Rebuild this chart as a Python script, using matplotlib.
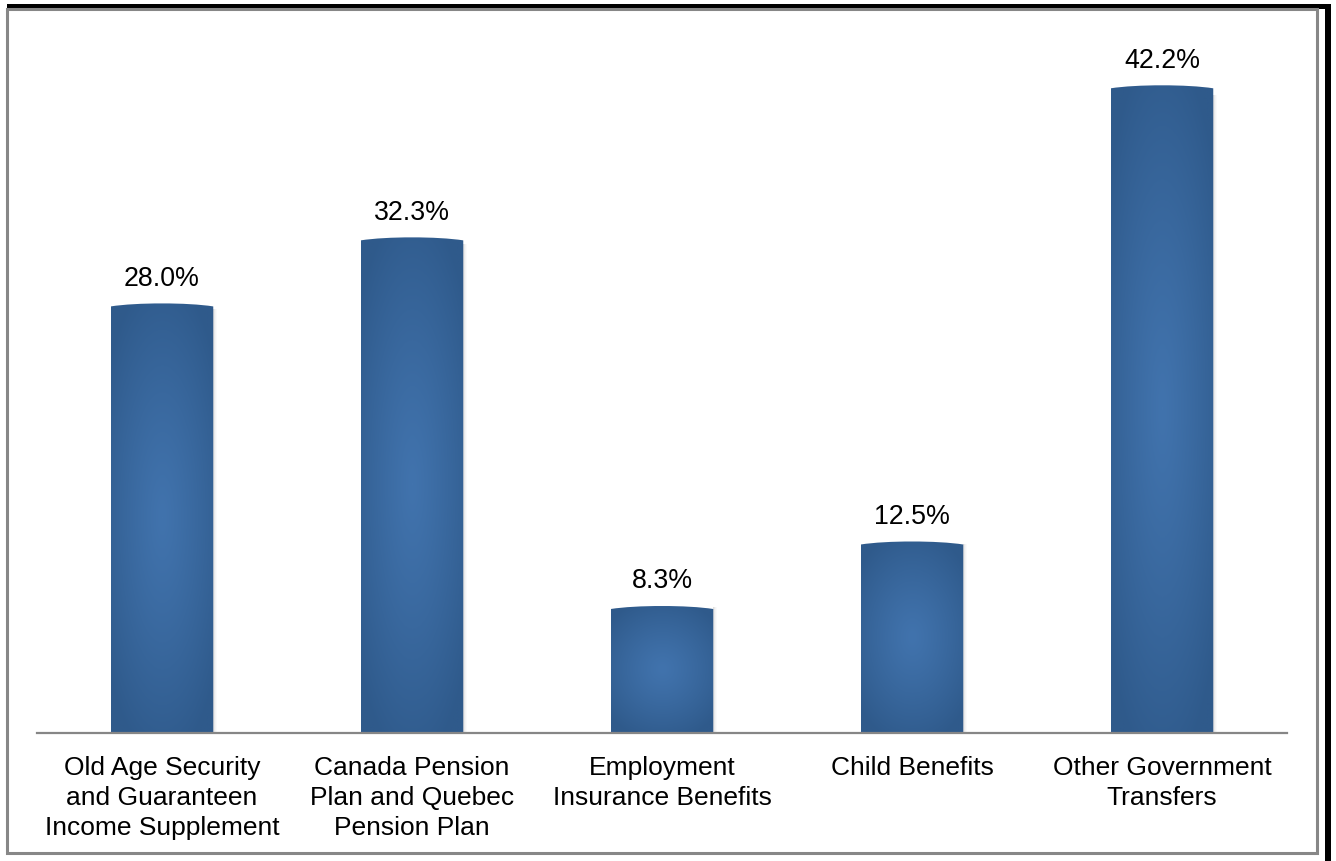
import numpy as np
import matplotlib
matplotlib.use("Agg")
import matplotlib.pyplot as plt
from matplotlib.patches import Rectangle, PathPatch
from matplotlib.path import Path
from matplotlib.colors import LinearSegmentedColormap

plt.rcParams['font.family'] = ['Liberation Sans', 'DejaVu Sans']

categories = [
    "Old Age Security\nand Guaranteen\nIncome Supplement",
    "Canada Pension\nPlan and Quebec\nPension Plan",
    "Employment\nInsurance Benefits",
    "Child Benefits",
    "Other Government\nTransfers",
]
shares = [28.0, 32.3, 8.3, 12.5, 42.2]
value_labels = ["28.0%", "32.3%", "8.3%", "12.5%", "42.2%"]

W, H = 1336, 861
fig = plt.figure(figsize=(W / 100, H / 100), dpi=100)
fig.patch.set_facecolor("white")

# outer frame: black offset shadow on top/right, gray box inside
fig.add_artist(Rectangle((7 / W, 1 - 9 / H), (1331 - 7) / W, 5 / H,
                         transform=fig.transFigure, facecolor="black",
                         edgecolor="none", zorder=0))
fig.add_artist(Rectangle((1325 / W, 0), 6 / W, 1 - 4 / H,
                         transform=fig.transFigure, facecolor="black",
                         edgecolor="none", zorder=0))
fig.add_artist(Rectangle((7 / W, 1 - 853 / H), (1317 - 7) / W, (853 - 9) / H,
                         transform=fig.transFigure, facecolor="white",
                         edgecolor="#878787", linewidth=2.2, zorder=1))

ax = fig.add_axes([37 / W, 1 - 733 / H, (1287 - 37) / W, (733 - 20) / H])
ax.set_zorder(2)
ax.patch.set_visible(False)

x = np.arange(len(shares))
bars = ax.bar(x, shares, width=0.41, color="none", edgecolor="none")
ax.set_xlim(-0.5, len(shares) - 0.5)
ax.set_ylim(0, (733 - 20) / 15.36)

cmap = LinearSegmentedColormap.from_list("barblue", ["#4173ad", "#2f5a8b"])
px_per_unit_y = 15.36
px_per_unit_x = 250.0

for b in bars:
    x0, w, h = b.get_x(), b.get_width(), b.get_height()
    # soft shadow to the right
    for k, a in zip(range(1, 5), [0.10, 0.07, 0.05, 0.03]):
        ax.add_patch(Rectangle((x0 + w, 0), k / px_per_unit_x, h * 0.985,
                               facecolor="#7f7f7f", alpha=a, edgecolor="none",
                               zorder=1))
    # slightly arched top edge
    dip = 3.5 / px_per_unit_y
    verts = [(x0, 0), (x0 + w, 0), (x0 + w, h - dip),
             (x0 + w * 0.75, h + dip * 0.15), (x0 + w * 0.25, h + dip * 0.15),
             (x0, h - dip), (x0, 0)]
    codes = [Path.MOVETO, Path.LINETO, Path.LINETO, Path.CURVE4,
             Path.CURVE4, Path.CURVE4, Path.CLOSEPOLY]
    clip = PathPatch(Path(verts, codes), facecolor="none", edgecolor="none")
    ax.add_patch(clip)
    # radial gradient fill
    gx = np.linspace(-1, 1, 120)
    gy = np.linspace(-1, 1, 240)
    GX, GY = np.meshgrid(gx, gy)
    d = np.clip(np.sqrt(GX ** 2 * 0.7 + GY ** 2) / 1.15, 0, 1) ** 1.2
    im = ax.imshow(d, cmap=cmap, vmin=0, vmax=1, extent=(x0, x0 + w, 0, h),
                   origin="lower", aspect="auto", interpolation="bilinear",
                   zorder=2)
    im.set_clip_path(clip)

for xi, v, lab in zip(x, shares, value_labels):
    ax.annotate(lab, (xi, v), xytext=(0, 8), textcoords="offset points",
                ha="center", va="bottom", fontsize=19.3, color="black")

for s in ["top", "right", "left"]:
    ax.spines[s].set_visible(False)
ax.spines["bottom"].set_color("#868686")
ax.spines["bottom"].set_linewidth(1.6)
ax.spines["bottom"].set_zorder(3)
ax.set_yticks([])
ax.set_xticks(x)
ax.set_xticklabels(categories, fontsize=19, linespacing=1.32)
ax.tick_params(axis="x", length=0, pad=16.5)

fig.savefig("out.png", dpi=100, facecolor="white")
